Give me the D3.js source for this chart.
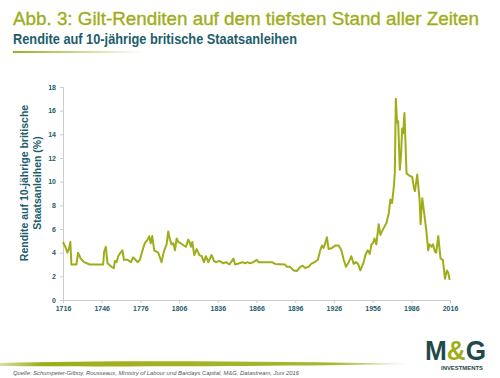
<!DOCTYPE html>
<html>
<head>
<meta charset="utf-8">
<script src="https://cdn.jsdelivr.net/npm/d3@7"></script>
<style>
  body { margin: 0; background: #fff; }
  svg { display: block; }
</style>
</head>
<body>
<svg id="chart" width="500" height="378"></svg>
<script>
// yields
const years = [1716, 1717.8, 1719.4, 1720.5, 1721.7, 1722.5, 1726.4, 1727.7, 1729.7, 1732.3, 1736.7, 1747.1, 1747.9, 1749.2, 1750.5, 1753.6, 1755.4, 1756.2, 1757.5, 1758.8, 1760.6, 1762.1, 1763.2, 1766, 1768.6, 1770.4, 1772.2, 1773.8, 1775.6, 1778.2, 1779.5, 1781.6, 1782.9, 1784, 1785.2, 1786.7, 1789.8, 1792.4, 1794.2, 1796.3, 1797.6, 1798.9, 1800.2, 1801.5, 1802.8, 1804.1, 1805.4, 1807.2, 1809.7, 1811.3, 1813.1, 1814.4, 1815.2, 1816.2, 1817.8, 1819.6, 1821.7, 1823.5, 1825.3, 1826.8, 1828.7, 1831.2, 1833, 1834.6, 1837.2, 1840.3, 1842.4, 1845, 1848.1, 1849.4, 1852.7, 1855.3, 1857.1, 1859, 1861, 1863.6, 1866.2, 1867.5, 1877.9, 1880.5, 1888.2, 1889.5, 1892.1, 1894.7, 1897.3, 1899.9, 1901.7, 1903.8, 1906.4, 1908.4, 1911, 1913.6, 1915.4, 1916.7, 1918, 1919.3, 1920.6, 1921.9, 1924.5, 1927.1, 1929.7, 1931.8, 1933.6, 1935.4, 1937.5, 1939.5, 1941.3, 1943.1, 1944.7, 1946.5, 1949.1, 1950.4, 1952.2, 1953.8, 1955.1, 1956.3, 1957.4, 1958.9, 1960.7, 1962, 1963.3, 1965.2, 1966.7, 1968.5, 1969.8, 1971.1, 1972.4, 1973.2, 1974, 1975, 1975.8, 1977.1, 1978.1, 1978.9, 1979.7, 1980.7, 1982.3, 1984.6, 1986.7, 1988, 1988.8, 1990.6, 1992.4, 1993.2, 1994.5, 1995.7, 1997.6, 1999.1, 2000.2, 2001.7, 2002.8, 2004.3, 2005.3, 2006.9, 2008.7, 2010.5, 2012.1, 2013.6, 2014.7, 2015.7];
const yields = [4.9, 4.5, 4.0, 4.3, 4.9, 3.0, 3.0, 4.0, 3.5, 3.2, 3.0, 3.0, 4.1, 4.5, 3.1, 2.8, 2.7, 3.3, 3.2, 3.7, 4.0, 4.2, 3.4, 3.4, 3.2, 3.6, 3.4, 3.2, 3.4, 4.4, 4.8, 5.1, 5.4, 4.8, 5.4, 4.2, 4.0, 3.2, 4.1, 4.7, 5.8, 5.1, 4.7, 4.8, 4.2, 5.2, 4.9, 4.8, 4.6, 4.5, 5.1, 4.8, 4.5, 4.9, 3.8, 4.3, 3.8, 3.7, 3.2, 3.7, 3.2, 3.8, 3.3, 3.2, 3.3, 3.1, 3.2, 3.0, 3.5, 3.0, 3.1, 3.2, 3.1, 3.2, 3.1, 3.2, 3.4, 3.2, 3.2, 3.05, 3.0, 2.8, 2.8, 2.5, 2.45, 2.8, 2.9, 2.7, 2.8, 3.05, 3.2, 3.4, 4.2, 4.6, 4.4, 4.8, 5.3, 4.3, 4.4, 4.6, 4.6, 4.2, 3.4, 2.8, 3.2, 3.7, 3.05, 3.2, 3.05, 2.5, 3.2, 3.8, 4.2, 3.9, 4.7, 4.8, 5.2, 4.7, 6.4, 5.5, 5.8, 6.2, 6.5, 7.3, 8.5, 8.2, 9.5, 10.7, 17.0, 15.0, 15.1, 11.0, 12.4, 14.5, 14.1, 15.8, 10.7, 10.5, 10.4, 9.5, 9.2, 10.6, 8.5, 6.4, 8.6, 7.6, 5.9, 4.2, 4.7, 4.5, 4.7, 4.1, 4.0, 5.4, 3.5, 3.4, 1.8, 2.5, 2.3, 1.7];

const xTicks = [1716, 1746, 1776, 1806, 1836, 1866, 1896, 1926, 1956, 1986, 2016];
const yTicks = [0, 2, 4, 6, 8, 10, 12, 14, 16, 18];

const olive = '#a0ad1a';
const teal = '#1d5d6c';
const logoTeal = '#1e4a4a';

const svg = d3.select('#chart');
const margin = {left: 63, right: 50, top: 87, bottom: 78};
const W = 500, H = 378;

const x = d3.scaleLinear().domain([1716, 2016]).range([margin.left, W - margin.right]);
const y = d3.scaleLinear().domain([0, 18]).range([H - margin.bottom, margin.top]);

// title
svg.append('text')
    .attr('x', 13).attr('y', 25)
    .attr('font-family', '"Liberation Sans Narrow", "Arial Narrow", "Liberation Sans", sans-serif')
    .attr('font-size', 19)
    .attr('fill', olive)
    .attr('stroke', olive).attr('stroke-width', 0.35)
    .attr('textLength', 466).attr('lengthAdjust', 'spacingAndGlyphs')
    .text('Abb. 3: Gilt-Renditen auf dem tiefsten Stand aller Zeiten');

svg.append('text')
    .attr('x', 13).attr('y', 44)
    .attr('font-family', '"Liberation Sans Narrow", "Arial Narrow", "Liberation Sans", sans-serif')
    .attr('font-size', 14).attr('font-weight', 'bold')
    .attr('fill', teal)
    .attr('textLength', 284).attr('lengthAdjust', 'spacingAndGlyphs')
    .text('Rendite auf 10-jährige britische Staatsanleihen');

const defs = svg.append('defs');
const g1 = defs.append('linearGradient').attr('id', 'uline');
g1.append('stop').attr('offset', '0%').attr('stop-color', olive).attr('stop-opacity', 1);
g1.append('stop').attr('offset', '100%').attr('stop-color', olive).attr('stop-opacity', 0);
svg.append('rect').attr('x', 13).attr('y', 51).attr('width', 130).attr('height', 2)
    .attr('fill', 'url(#uline)');

// axes
const yAxis = svg.append('g')
    .attr('transform', `translate(${margin.left},0)`)
    .call(d3.axisLeft(y).tickValues(yTicks).tickSize(3).tickPadding(4));
const xAxis = svg.append('g')
    .attr('transform', `translate(0,${H - margin.bottom})`)
    .call(d3.axisBottom(x).tickValues(xTicks).tickFormat(d3.format('d')).tickSize(3).tickPadding(3));

[yAxis, xAxis].forEach(a => {
    a.select('.domain').attr('stroke', '#c8cccc');
    a.selectAll('.tick line').attr('stroke', '#c8cccc');
    a.selectAll('.tick text')
        .attr('fill', teal)
        .attr('font-family', '"Liberation Sans", Arial, sans-serif')
        .attr('font-size', 7).attr('font-weight', 'bold');
});

// y label
const yl = svg.append('text')
    .attr('transform', 'rotate(-90)')
    .attr('text-anchor', 'middle')
    .attr('font-family', '"Liberation Sans", Arial, sans-serif')
    .attr('font-size', 10.5).attr('font-weight', 'bold')
    .attr('fill', teal);
yl.append('tspan').attr('x', -183).attr('y', 28).text('Rendite auf 10-jährige britische');
yl.append('tspan').attr('x', -183).attr('y', 41).text('Staatsanleihen (%)');

// line
const line = d3.line().x((d, i) => x(years[i])).y(d => y(d));
svg.append('path')
    .datum(yields)
    .attr('d', line)
    .attr('fill', 'none')
    .attr('stroke', olive)
    .attr('stroke-width', 2)
    .attr('stroke-linejoin', 'round');

// brush stroke
const g2 = defs.append('linearGradient').attr('id', 'brush');
g2.append('stop').attr('offset', '0%').attr('stop-color', olive).attr('stop-opacity', 0.4);
g2.append('stop').attr('offset', '10%').attr('stop-color', olive).attr('stop-opacity', 1);
g2.append('stop').attr('offset', '80%').attr('stop-color', olive).attr('stop-opacity', 0.9);
g2.append('stop').attr('offset', '100%').attr('stop-color', olive).attr('stop-opacity', 0.1);
svg.append('path')
    .attr('d', 'M0,363 C100,360.5 250,360.5 414,364 C300,366 120,367 0,366 Z')
    .attr('fill', 'url(#brush)');

svg.append('text')
    .attr('x', 13).attr('y', 375)
    .attr('font-family', '"Liberation Sans", Arial, sans-serif')
    .attr('font-size', 6.2).attr('font-style', 'italic')
    .attr('fill', '#555')
    .attr('textLength', 286).attr('lengthAdjust', 'spacingAndGlyphs')
    .text('Quelle: Schumpeter-Gilboy, Rousseaux, Ministry of Labour und Barclays Capital, M&G, Datastream, Juni 2016');

// logo
const logo = svg.append('g').attr('font-family', '"Liberation Sans Narrow", "Liberation Sans", Arial, sans-serif').attr('font-weight', 'bold');
logo.append('text').attr('x', 425).attr('y', 360).attr('font-size', 27)
    .attr('textLength', 61).attr('lengthAdjust', 'spacingAndGlyphs')
    .selectAll('tspan').data(['M', '&', 'G']).join('tspan')
    .attr('fill', d => d === '&' ? olive : logoTeal)
    .text(d => d);
logo.append('text').attr('x', 462).attr('y', 369.5).attr('text-anchor', 'middle')
    .attr('font-family', '"Liberation Sans", Arial, sans-serif')
    .attr('font-size', 5).attr('fill', logoTeal)
    .attr('textLength', 42).attr('lengthAdjust', 'spacingAndGlyphs')
    .text('INVESTMENTS');
</script>
</body>
</html>
